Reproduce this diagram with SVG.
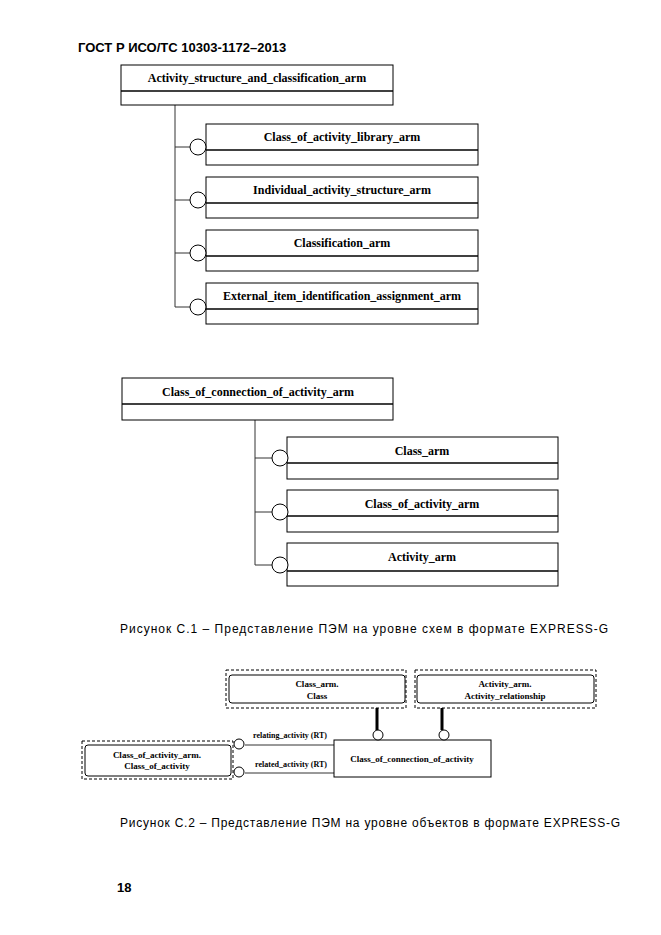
<svg xmlns="http://www.w3.org/2000/svg" width="661" height="935" viewBox="0 0 661 935">
<style>
.bg{fill:#fff}
.box{fill:#fff;stroke:#000;stroke-width:1}
.div{stroke:#000;stroke-width:1.5}
.ln{fill:none;stroke:#333;stroke-width:1}
.circ{fill:#fff;stroke:#000;stroke-width:1}
.t{font-family:"Liberation Serif",serif;font-weight:bold;font-size:12px;text-anchor:middle}
.ts{font-family:"Liberation Serif",serif;font-weight:bold;font-size:9px;text-anchor:middle}
.tl{font-family:"Liberation Serif",serif;font-weight:bold;font-size:8px}
.cap{font-family:"Liberation Sans",sans-serif;font-size:12px}
.hdr{font-family:"Liberation Sans",sans-serif;font-weight:bold;font-size:13px}
.dash{fill:none;stroke:#000;stroke-width:1;stroke-dasharray:3,2}
.rnd{fill:#fff;stroke:#000;stroke-width:1}
.thick{stroke:#000;stroke-width:3}
</style>
<rect class="bg" x="0" y="0" width="661" height="935"/>
<text class="hdr" x="78" y="52">ГОСТ Р ИСО/ТС 10303-1172–2013</text>

<g id="connectors">
  <path class="ln" d="M175,105 V307"/>
  <path class="ln" d="M175,147 H190 M175,200 H190 M175,253 H190 M175,307 H190"/>
  <path class="ln" d="M255,420 V565"/>
  <path class="ln" d="M255,458 H272 M255,512 H272 M255,565 H272"/>
  <path class="thick" d="M377,708 V730 M442,708 V730"/>
  <path class="ln" d="M245,745 H334 M245,773 H334"/>
</g>

<g id="n_asc">
  <rect class="box" x="121" y="65" width="272" height="40"/>
  <line class="div" x1="121" y1="91" x2="393" y2="91"/>
  <text class="t" x="257" y="82">Activity_structure_and_classification_arm</text>
</g>

<g id="n_col">
  <rect class="box" x="206" y="124" width="272" height="41"/>
  <line class="div" x1="206" y1="150" x2="478" y2="150"/>
  <circle class="circ" cx="198" cy="147" r="8"/>
  <text class="t" x="342" y="141">Class_of_activity_library_arm</text>
</g>
<g id="n_ias">
  <rect class="box" x="206" y="177" width="272" height="41"/>
  <line class="div" x1="206" y1="203" x2="478" y2="203"/>
  <circle class="circ" cx="198" cy="200" r="8"/>
  <text class="t" x="342" y="194">Individual_activity_structure_arm</text>
</g>
<g id="n_cls">
  <rect class="box" x="206" y="230" width="272" height="41"/>
  <line class="div" x1="206" y1="256" x2="478" y2="256"/>
  <circle class="circ" cx="198" cy="253" r="8"/>
  <text class="t" x="342" y="247">Classification_arm</text>
</g>
<g id="n_ext">
  <rect class="box" x="206" y="283" width="272" height="41"/>
  <line class="div" x1="206" y1="309" x2="478" y2="309"/>
  <circle class="circ" cx="198" cy="307" r="8"/>
  <text class="t" x="342" y="300">External_item_identification_assignment_arm</text>
</g>

<g id="n_coca">
  <rect class="box" x="122" y="378" width="271" height="42"/>
  <line class="div" x1="122" y1="404" x2="393" y2="404"/>
  <text class="t" x="258" y="396">Class_of_connection_of_activity_arm</text>
</g>
<g id="n_class">
  <rect class="box" x="287" y="437" width="271" height="42"/>
  <line class="div" x1="287" y1="463" x2="558" y2="463"/>
  <circle class="circ" cx="280" cy="458" r="8"/>
  <text class="t" x="422" y="455">Class_arm</text>
</g>
<g id="n_coa">
  <rect class="box" x="287" y="490" width="271" height="42"/>
  <line class="div" x1="287" y1="516" x2="558" y2="516"/>
  <circle class="circ" cx="280" cy="512" r="8"/>
  <text class="t" x="422" y="508">Class_of_activity_arm</text>
</g>
<g id="n_act">
  <rect class="box" x="287" y="543" width="271" height="43"/>
  <line class="div" x1="287" y1="571" x2="558" y2="571"/>
  <circle class="circ" cx="280" cy="565" r="8"/>
  <text class="t" x="422" y="561">Activity_arm</text>
</g>

<text class="cap" x="120" y="633" textLength="488" lengthAdjust="spacing">Рисунок С.1 –  Представление ПЭМ на уровне схем в формате EXPRESS-G</text>

<g id="o_class">
  <rect class="dash" x="226" y="670" width="180" height="38"/>
  <rect class="rnd" x="229" y="675" width="176" height="28" rx="3"/>
  <text class="ts" x="317" y="687">Class_arm.</text>
  <text class="ts" x="317" y="699">Class</text>
</g>
<g id="o_actrel">
  <rect class="dash" x="415" y="670" width="181" height="38"/>
  <rect class="rnd" x="417" y="675" width="177" height="28" rx="3"/>
  <text class="ts" x="505" y="687">Activity_arm.</text>
  <text class="ts" x="505" y="699">Activity_relationship</text>
</g>
<g id="o_coca">
  <rect class="box" x="334" y="740" width="157" height="37"/>
  <circle class="circ" cx="378" cy="735" r="5"/>
  <circle class="circ" cx="444" cy="735" r="5"/>
  <text class="ts" x="412" y="762">Class_of_connection_of_activity</text>
</g>
<g id="o_coa">
  <rect class="dash" x="82" y="741" width="151" height="38"/>
  <rect class="rnd" x="85" y="745" width="146" height="31" rx="3"/>
  <text class="ts" x="157" y="758">Class_of_activity_arm.</text>
  <text class="ts" x="157" y="769">Class_of_activity</text>
  <circle class="circ" cx="239" cy="744" r="5"/>
  <circle class="circ" cx="239" cy="772" r="5"/>
</g>
<g id="labels">
  <text class="tl" x="253" y="738" textLength="74" lengthAdjust="spacingAndGlyphs">relating_activity (RT)</text>
  <text class="tl" x="255" y="767" textLength="72" lengthAdjust="spacingAndGlyphs">related_activity (RT)</text>
</g>

<text class="cap" x="120" y="827" textLength="500" lengthAdjust="spacing">Рисунок С.2 –  Представление ПЭМ на уровне объектов в формате EXPRESS-G</text>
<text class="hdr" x="117" y="892">18</text>
</svg>
